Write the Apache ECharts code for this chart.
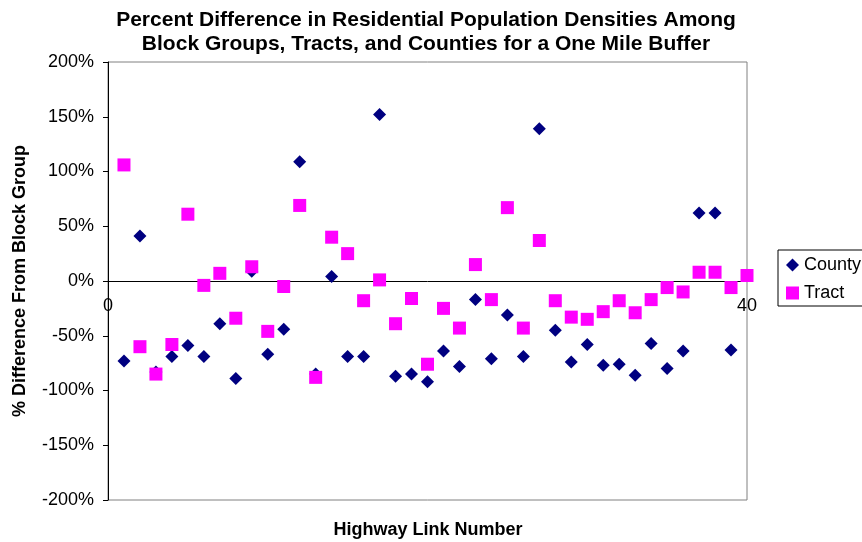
<!DOCTYPE html>
<html>
<head>
<meta charset="utf-8">
<script src="https://cdn.jsdelivr.net/npm/echarts@6/dist/echarts.min.js"></script>
<style>html,body{margin:0;padding:0;background:#fff;}#c{width:862px;height:542px;}</style>
</head>
<body>
<div id="c"></div>
<script>
var linkNumbers = [1,2,3,4,5,6,7,8,9,10,11,12,13,14,15,16,17,18,19,20,21,22,23,24,25,26,27,28,29,30,31,32,33,34,35,36,37,38,39,40];
var countyValues = [-73,41,-83,-69,-59,-69,-39,-89,9,-67,-44,109,-85,4,-69,-69,152,-87,-85,-92,-64,-78,-17,-71,-31,-69,139,-45,-74,-58,-77,-76,-86,-57,-80,-64,62,62,-63,null];
var tractValues = [106,-60,-85,-58,61,-4,7,-34,13,-46,-5,69,-88,40,25,-18,1,-39,-16,-76,-25,-43,15,-17,67,-43,37,-18,-33,-35,-28,-18,-29,-17,-6,-10,8,8,-6,5];
var yTicks = {min: -200, max: 200, interval: 50};
var xTicks = {min: 0, max: 40, interval: 40};

function pairs(vals){
  var out = [];
  for (var i = 0; i < linkNumbers.length; i++) {
    if (vals[i] !== null && vals[i] !== undefined) out.push([linkNumbers[i], vals[i]]);
  }
  return out;
}

var chart = echarts.init(document.getElementById('c'), null, {renderer: 'canvas'});
var font = 'Liberation Sans, Arial, sans-serif';
var gridTop = 62, gridBottom = 42, chartH = 542;
var plotH = chartH - gridTop - gridBottom;
// distance from bottom of plot to the y=0 line, through the y scale
var zeroOffset = plotH * (0 - yTicks.min) / (yTicks.max - yTicks.min);

chart.setOption({
  animation: false,
  backgroundColor: '#fff',
  grid: {left: 108, right: 115, top: gridTop, bottom: gridBottom, show: true, borderColor: '#808080', borderWidth: 1, backgroundColor: 'transparent'},
  graphic: [
    {type: 'text', x: 426, y: 8, style: {text: 'Percent Difference in Residential Population Densities Among\nBlock Groups, Tracts, and Counties for a One Mile Buffer', font: 'bold 21px ' + font, fill: '#000', textAlign: 'center', lineHeight: 24}},
    {type: 'text', x: 428, y: 521, style: {text: 'Highway Link Number', font: 'bold 18px ' + font, fill: '#000', textAlign: 'center'}}
  ],
  legend: {
    orient: 'vertical', left: 778, top: 250,
    data: [{name: 'County', icon: 'diamond'}, {name: 'Tract', icon: 'rect'}],
    itemWidth: 13, itemHeight: 13, itemGap: 10,
    borderColor: '#000', borderWidth: 1, padding: [6, 12, 4, 8],
    textStyle: {fontFamily: font, fontSize: 18, color: '#000'}
  },
  xAxis: [{
    type: 'value', min: xTicks.min, max: xTicks.max, interval: xTicks.interval,
    position: 'bottom', offset: -zeroOffset,
    axisLine: {show: true, onZero: false, lineStyle: {color: '#000', width: 1}},
    axisTick: {show: false},
    splitLine: {show: false},
    axisLabel: {fontFamily: font, fontSize: 18, color: '#000', margin: 16}
  }],
  yAxis: {
    type: 'value', min: yTicks.min, max: yTicks.max, interval: yTicks.interval,
    name: '% Difference From Block Group', nameLocation: 'middle', nameGap: 79, nameRotate: 90,
    nameTextStyle: {fontFamily: font, fontSize: 18, fontWeight: 'bold', color: '#000'},
    axisLine: {show: true, lineStyle: {color: '#000', width: 1}},
    axisTick: {show: true, inside: false, length: 5, lineStyle: {color: '#000'}},
    splitLine: {show: false},
    axisLabel: {fontFamily: font, fontSize: 18, color: '#000', margin: 14, formatter: '{value}%'}
  },
  series: [
    {name: 'County', type: 'scatter', symbol: 'diamond', symbolSize: 13, itemStyle: {color: '#000080', opacity: 1}, data: pairs(countyValues), z: 3},
    {name: 'Tract', type: 'scatter', symbol: 'rect', symbolSize: 13, itemStyle: {color: '#FF00FF', opacity: 1}, data: pairs(tractValues), z: 4}
  ]
});
</script>
</body>
</html>
